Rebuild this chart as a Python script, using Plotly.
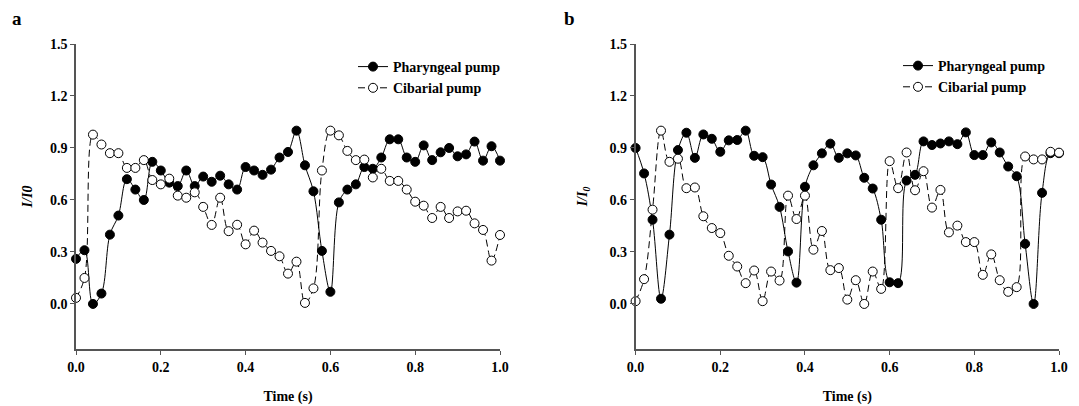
import plotly.graph_objects as go

# time axis (s), sampled every 0.02 s
time_s = [round(i * 0.02, 2) for i in range(51)]

# panel a
a_pharyngeal = [0.26, 0.31, 0.00, 0.06, 0.40, 0.51, 0.72, 0.66, 0.60, 0.82,
                0.77, 0.70, 0.68, 0.77, 0.68, 0.735, 0.705, 0.74, 0.69, 0.66,
                0.79, 0.77, 0.745, 0.775, 0.845, 0.877, 1.00, 0.80, 0.65, 0.306,
                0.07, 0.586, 0.66, 0.69, 0.79, 0.78, 0.845, 0.95, 0.95, 0.845,
                0.82, 0.915, 0.83, 0.875, 0.90, 0.852, 0.863, 0.937, 0.827, 0.91,
                0.827]
a_cibarial = [0.035, 0.15, 0.977, 0.92, 0.87, 0.87, 0.785, 0.785, 0.83, 0.715,
              0.69, 0.723, 0.625, 0.613, 0.644, 0.56, 0.456, 0.613, 0.42, 0.457,
              0.344, 0.423, 0.354, 0.306, 0.275, 0.175, 0.244, 0.006, 0.09, 0.77,
              1.00, 0.973, 0.883, 0.83, 0.833, 0.73, 0.78, 0.71, 0.71, 0.66,
              0.59, 0.567, 0.496, 0.56, 0.496, 0.534, 0.538, 0.465, 0.427, 0.25,
              0.398]

# panel b
b_pharyngeal = [0.90, 0.753, 0.486, 0.03, 0.40, 0.888, 0.988, 0.843, 0.978, 0.953,
                0.878, 0.944, 0.946, 1.00, 0.855, 0.847, 0.689, 0.56, 0.303, 0.123,
                0.676, 0.80, 0.869, 0.925, 0.843, 0.869, 0.857, 0.728, 0.666, 0.486,
                0.125, 0.12, 0.712, 0.745, 0.938, 0.917, 0.926, 0.938, 0.922, 0.99,
                0.859, 0.859, 0.932, 0.874, 0.793, 0.737, 0.347, 0.00, 0.641, 0.87,
                0.87]
b_cibarial = [0.016, 0.143, 0.544, 1.00, 0.82, 0.838, 0.668, 0.672, 0.506, 0.438,
              0.409, 0.278, 0.216, 0.12, 0.193, 0.016, 0.187, 0.135, 0.625, 0.49,
              0.625, 0.313, 0.421, 0.195, 0.207, 0.025, 0.137, 0.00, 0.187, 0.087,
              0.824, 0.668, 0.874, 0.656, 0.766, 0.556, 0.658, 0.413, 0.452, 0.357,
              0.357, 0.168, 0.286, 0.137, 0.07, 0.097, 0.851, 0.834, 0.834, 0.878,
              0.873]

x_ticks = [0.0, 0.2, 0.4, 0.6, 0.8, 1.0]
y_ticks = [0.0, 0.3, 0.6, 0.9, 1.2, 1.5]

SERIF = "Liberation Serif"
# the page body adds an 8px margin, so the figure is drawn 8px in from the corner
OFF = 8
W, H = 1079 - OFF, 406 - OFF


def px(x):
    return (x - OFF) / W


def py(y):
    return 1 - (y - OFF) / H


fig = go.Figure()


def add_panel(fig, xa, ya, legend, pharyngeal, cibarial):
    fig.add_trace(go.Scatter(
        x=time_s, y=pharyngeal, mode="lines+markers", name="Pharyngeal pump",
        line=dict(color="black", width=1, shape="spline"),
        marker=dict(symbol="circle", size=9, color="black", line=dict(color="black", width=1)),
        xaxis=xa, yaxis=ya, legend=legend, cliponaxis=False,
    ))
    fig.add_trace(go.Scatter(
        x=time_s, y=cibarial, mode="lines+markers", name="Cibarial pump",
        line=dict(color="black", width=1, shape="spline", dash="7px,4px"),
        marker=dict(symbol="circle", size=9, color="white", line=dict(color="black", width=1)),
        xaxis=xa, yaxis=ya, legend=legend, cliponaxis=False,
    ))


add_panel(fig, "x", "y", "legend", a_pharyngeal, a_cibarial)
add_panel(fig, "x2", "y2", "legend2", b_pharyngeal, b_cibarial)

tickfont = dict(family=SERIF, size=14, color="black", weight="bold")
axis_common = dict(
    showgrid=False, zeroline=False, showline=True, linecolor="#555", linewidth=1.5,
    ticks="outside", ticklen=4, tickcolor="#555", tickwidth=1.2, tickfont=tickfont,
    automargin=False,
)
xaxis = dict(axis_common, range=[0, 1.0], tickvals=x_ticks, ticktext=[f"{v:.1f}" for v in x_ticks],
             title=dict(text="Time (s)", font=tickfont, standoff=18))
yaxis = dict(axis_common, range=[-0.26, 1.5], tickvals=y_ticks, ticktext=[f"{v:.1f}" for v in y_ticks])

y_dom = [py(349), py(44)]
legend_common = dict(
    font=dict(family=SERIF, size=14, color="black", weight="bold"),
    bgcolor="rgba(0,0,0,0)", tracegroupgap=0, itemwidth=30,
    xanchor="left", yanchor="top",
)

fig.update_layout(
    width=W, height=H, margin=dict(l=0, r=0, t=0, b=0, autoexpand=False),
    paper_bgcolor="white", plot_bgcolor="white",
    xaxis=dict(xaxis, domain=[px(76), px(500)], anchor="y"),
    yaxis=dict(yaxis, domain=y_dom, anchor="x",
               title=dict(text="<i>I/I0</i>", font=tickfont, standoff=14)),
    xaxis2=dict(xaxis, domain=[px(635.6), px(1059)], anchor="y2"),
    yaxis2=dict(yaxis, domain=y_dom, anchor="x2",
                title=dict(text="<i>I/I</i><sub><i>0</i></sub>", font=tickfont, standoff=19)),
    legend=dict(legend_common, x=px(353), y=py(51)),
    legend2=dict(legend_common, x=px(898), y=py(50)),
    annotations=[
        dict(text="<b>a</b>", x=px(17), y=py(18), xref="paper", yref="paper",
             xanchor="center", yanchor="middle",
             showarrow=False, font=dict(family=SERIF, size=19, color="black")),
        dict(text="<b>b</b>", x=px(569), y=py(18), xref="paper", yref="paper",
             xanchor="center", yanchor="middle",
             showarrow=False, font=dict(family=SERIF, size=19, color="black")),
    ],
)

fig.write_html("out.html")
